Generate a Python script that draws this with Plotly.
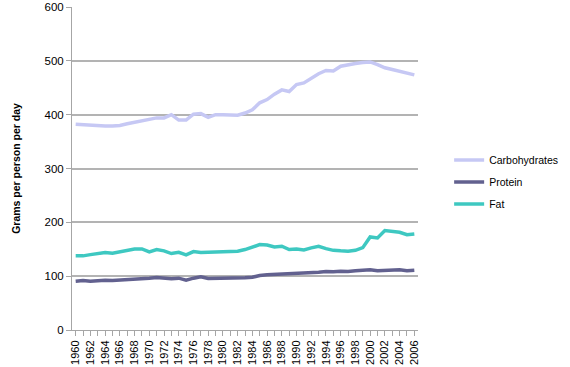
import plotly.graph_objects as go

years = list(range(1960, 2007))
carbohydrates = [382, 381, 381, 380, 379, 379, 380, 383, 386, 389,
                 392, 394, 394, 400, 390, 390, 401, 402, 395, 400,
                 400, 399, 399, 403, 409, 422, 428, 438, 446, 443,
                 456, 459, 467, 476, 482, 481, 490, 493, 495, 497,
                 498, 493, 487, 484, 481, 478, 474]
protein = [90.7, 92, 90.7, 92, 92.6, 92, 92.6, 93.8, 93.8, 95,
           96.3, 97.5, 96.9, 95, 96.3, 92.6, 96.3, 98.8, 95.7, 95.7,
           96.3, 96.9, 96.9, 96.9, 98, 101.2, 102.5, 103, 103.7, 104.3,
           105, 105.6, 106.8, 107.4, 108.6, 108, 109.3, 108.6, 110, 111,
           111.7, 110, 110.5, 111, 111.7, 110, 111]
fat = [137.7, 137.7, 140, 142, 144, 142.6, 145.7, 147.5, 150.6, 150.6,
       145, 149.4, 147, 142, 144.4, 139.5, 145.7, 144, 144.4, 145,
       146.3, 146.3, 146.3, 149.4, 153.7, 158.6, 158, 154.3, 155.6, 149.4,
       150.6, 148.8, 152.5, 155.6, 151.2, 148, 147, 146.3, 148, 153,
       172.8, 171, 184.6, 183.3, 181.5, 177, 178.4]

series = [("Carbohydrates", carbohydrates, "#c6c8f4"),
          ("Protein", protein, "#62618f"),
          ("Fat", fat, "#3ec8c1")]

fig = go.Figure()
for name, vals, color in series:
    fig.add_trace(go.Scatter(x=years, y=vals, name=name, mode="lines", legendgroup=name,
                             line=dict(color=color, width=3.5)))

fig.update_layout(
    width=570, height=367,
    margin=dict(l=72, r=129, t=7, b=37),
    paper_bgcolor="white", plot_bgcolor="white",
    font=dict(family="Liberation Sans", size=11, color="black"),
    showlegend=True,
    legend=dict(x=1.09, y=0.458, xanchor="left", yanchor="middle",
                font=dict(size=10.5), tracegroupgap=3, itemwidth=30,
                bgcolor="rgba(0,0,0,0)"),
)
fig.update_xaxes(
    range=[1959.5, 2006.5], tickmode="linear", tick0=1960, dtick=2,
    tickangle=-90, showgrid=False, zeroline=False, automargin=False,
    showline=True, linecolor="#a6a6a6", linewidth=1,
    ticks="outside", ticklen=5, tickcolor="#a6a6a6",
    minor=dict(dtick=1, ticks="outside", ticklen=5, tickcolor="#a6a6a6", showgrid=False),
    tickfont=dict(size=11),
)
fig.update_yaxes(
    range=[0, 600], dtick=100, showgrid=True, gridcolor="#b3b3b3", gridwidth=1.5,
    zeroline=False, showline=True, linecolor="#a6a6a6", linewidth=1, automargin=False,
    ticks="outside", ticklen=5, tickcolor="#a6a6a6",
    tickfont=dict(size=11.5),
    title=dict(text="<b>Grams per person per day</b>", font=dict(size=10.5), standoff=21),
)

fig.write_html("out.html", config={"displayModeBar": False},
               post_script="document.body.style.margin='0';")
